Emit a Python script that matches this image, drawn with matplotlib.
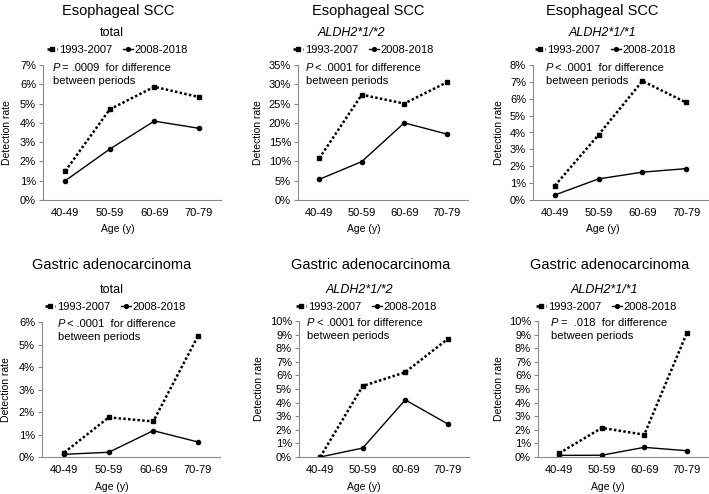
import numpy as np
import matplotlib
matplotlib.use('Agg')
import matplotlib.pyplot as plt

plt.rcParams['font.family'] = ['Liberation Sans', 'DejaVu Sans']

W, H = 709, 494

ages = ['40-49', '50-59', '60-69', '70-79']
periods = ['1993-2007', '2008-2018']

titles = ['Esophageal SCC'] * 3 + ['Gastric adenocarcinoma'] * 3
subtitles = ['total', 'ALDH2*1/*2', 'ALDH2*1/*1'] * 2
pvalues = ['= .0009  for difference', '< .0001 for difference', '< .0001  for difference',
           '< .0001  for difference', '< .0001 for difference', '=  .018  for difference']
ymax = [7, 35, 8, 6, 10, 10]
ystep = [1, 5, 1, 1, 1, 1]

# detection rate (%) per age group
early = [
    [1.5, 4.7, 5.87, 5.34],
    [10.8, 27.3, 25.0, 30.5],
    [0.85, 3.87, 7.05, 5.78],
    [0.2, 1.76, 1.58, 5.36],
    [0.0, 5.22, 6.23, 8.68],
    [0.28, 2.14, 1.64, 9.1],
]
late = [
    [1.0, 2.64, 4.09, 3.72],
    [5.35, 9.95, 20.0, 17.1],
    [0.3, 1.25, 1.65, 1.86],
    [0.12, 0.21, 1.17, 0.67],
    [0.0, 0.66, 4.2, 2.43],
    [0.12, 0.13, 0.71, 0.46],
]

# pixel boxes: left, top, right, bottom
boxes = [(43, 65, 221, 200), (298, 65, 468, 200), (533, 65, 708, 200),
         (42, 322, 220, 457), (299, 321, 469, 457), (538, 321, 708, 457)]
title_pos = [(118, 11), (368, 11), (602, 11), (112, 265), (371, 265), (610, 265)]
sub_pos = [(112, 33), (351, 33), (602, 33), (112, 290), (359, 290), (604, 290)]
leg_pos = [(47, 50), (293, 50), (535, 50), (45, 307), (296, 307), (536, 307)]
ylab_x = [7, 258, 499, 6, 259, 499]
xlab_pos = [(118, 229), (364, 229), (603, 229), (112, 487), (364, 487), (608, 487)]
ptext_dx = [10, 8, 13, 16, 8, 13]
ptext_dy = [2, 2, 2, 1, 1, 1]

GREY = '#8a8a8a'


def fx(x):
    return x / W


def fy(y):
    return 1 - y / H


fig = plt.figure(figsize=(W / 100, H / 100), dpi=100)

for i in range(6):
    l, t, r, b = boxes[i]
    ax = fig.add_axes([fx(l), fy(b), (r - l) / W, (b - t) / H])
    x = np.arange(len(ages))
    ax.plot(x, early[i], color='black', lw=1.8, ls=(0, (1, 0.9)),
            marker='s', ms=2.8, label=periods[0])
    ax.plot(x, late[i], color='black', lw=1.0, marker='o', ms=3,
            label=periods[1])
    ax.set_xlim(-0.5, 3.5)
    ax.set_ylim(0, ymax[i])
    ax.set_xticks(x)
    ax.set_xticklabels(ages, fontsize=8)
    yt = np.arange(0, ymax[i] + 0.01, ystep[i])
    ax.set_yticks(yt)
    ax.set_yticklabels(['%d%%' % v for v in yt], fontsize=8)
    ax.tick_params(axis='x', length=0, pad=6)
    ax.tick_params(axis='y', length=3, width=0.8, color=GREY, pad=2)
    for s in ['top', 'right']:
        ax.spines[s].set_visible(False)
    for s in ['left', 'bottom']:
        ax.spines[s].set_color(GREY)
        ax.spines[s].set_linewidth(0.8)
    ax.patch.set_alpha(0)

    px = l + ptext_dx[i]
    py = t + ptext_dy[i] + 1
    fig.text(fx(px), fy(py), 'P', style='italic', fontsize=8, va='center')
    fig.text(fx(px + 6.5), fy(py), ' ' + pvalues[i], fontsize=8, va='center')
    fig.text(fx(px), fy(py + 13), 'between periods', fontsize=8, va='center')

    fig.text(fx(title_pos[i][0]), fy(title_pos[i][1]), titles[i],
             fontsize=10.5, ha='center', va='center')
    fig.text(fx(sub_pos[i][0]), fy(sub_pos[i][1]), subtitles[i],
             fontsize=9, ha='center', va='center',
             style='normal' if subtitles[i] == 'total' else 'italic')
    fig.text(fx(ylab_x[i]), fy((t + b) / 2), 'Detection rate', fontsize=7.5,
             rotation=90, ha='center', va='center')
    fig.text(fx(xlab_pos[i][0]), fy(xlab_pos[i][1]), 'Age (y)', fontsize=7.5,
             ha='center', va='center')

    ax.legend(loc='center left', bbox_to_anchor=(fx(leg_pos[i][0]), fy(leg_pos[i][1])),
              bbox_transform=fig.transFigure, ncol=2, frameon=False, fontsize=8,
              handlelength=0.9, handletextpad=0.15, columnspacing=1.0,
              borderpad=0, borderaxespad=0, markerscale=0.9)

fig.savefig('out.png', dpi=100)
